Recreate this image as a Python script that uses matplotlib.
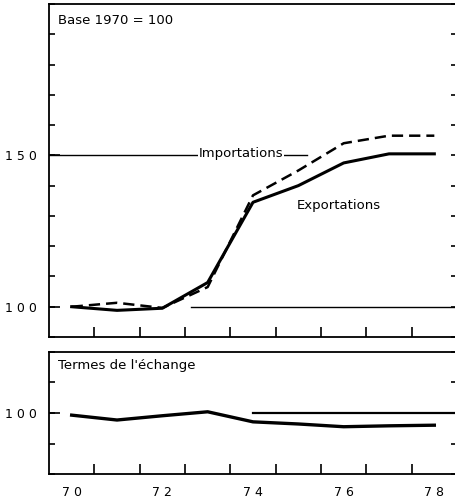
#--------------------------------------------------
# Indices des prix à l'exportation / importation et termes de l'échange
#--------------------------------------------------
import matplotlib
matplotlib.use("Agg")
import matplotlib.pyplot as plt
from matplotlib.ticker import FixedLocator, MultipleLocator

plt.rcParams['font.family'] = ['DejaVu Sans']

#--------------------------------------------------
# données (base 1970 = 100)
#--------------------------------------------------
years = [70, 71, 72, 73, 74, 75, 76, 77, 78]
exportations = [100, 98.8, 99.5, 108, 134.5, 140, 147.5, 150.5, 150.5]
importations = [100, 101.3, 99.6, 106.5, 136.8, 145, 154, 156.5, 156.5]
termes = [99.3, 97.7, 99.1, 100.4, 97.1, 96.4, 95.5, 95.8, 96.0]

x_labels = ["7 0", "7 2", "7 4", "7 6", "7 8"]
x_label_pos = [70, 72, 74, 76, 78]
top_ticks = [100, 150]
top_tick_labels = ["1 0 0", "1 5 0"]

#--------------------------------------------------
# figure
#--------------------------------------------------
fig = plt.figure(figsize=(4.55, 5.0), dpi=100)
ax1 = fig.add_axes([49 / 455, 1 - 337 / 500, 408 / 455, 333 / 500])
ax2 = fig.add_axes([49 / 455, 1 - 474 / 500, 408 / 455, 122 / 500])


def style_axis(ax, ylim, majors, major_labels, show_x):
    ax.set_xlim(69.5, 78.5)
    ax.set_ylim(*ylim)
    ax.spines['right'].set_visible(False)
    for s in ax.spines.values():
        s.set_linewidth(1.3)
    # x : marques aux mi-années, libellés aux années paires
    ax.xaxis.set_major_locator(FixedLocator(x_label_pos))
    ax.xaxis.set_minor_locator(FixedLocator([y + 0.5 for y in years[:-1]]))
    ax.tick_params(axis='x', which='major', length=0, pad=9, labelsize=9)
    ax.tick_params(axis='x', which='minor', direction='in', length=7, width=1.2)
    if show_x:
        ax.set_xticklabels(x_labels)
    else:
        ax.set_xticklabels([])
    # y : graduations tous les 10
    ax.yaxis.set_major_locator(FixedLocator(majors))
    ax.yaxis.set_minor_locator(MultipleLocator(10))
    ax.yaxis.remove_overlapping_locs = False
    ax.set_yticklabels(major_labels)
    ax.tick_params(axis='y', which='major', direction='in', length=8, width=1.2,
                   left=True, right=False, pad=9, labelsize=9)
    ax.tick_params(axis='y', which='minor', direction='in', length=4, width=1.2,
                   left=True, right=True)


style_axis(ax1, (90, 200), top_ticks, top_tick_labels, False)
style_axis(ax2, (80, 120), [100], ["1 0 0"], True)

# libellé 200, rogné par le haut de la figure
ax1.annotate("2 0 0", xy=(0, 200), xycoords=('axes fraction', 'data'),
             xytext=(-6.5, 5.5), textcoords='offset points',
             ha='right', va='center', fontsize=9, annotation_clip=False)

# panneau du haut
ax1.plot([72.64, 78.5], [100, 100], color='black', lw=1.0)
ax1.plot([69.5, 75.2], [150, 150], color='black', lw=1.0)
ax1.plot(years, importations, color='black', lw=1.8, dashes=(4.5, 2.4))
ax1.plot(years, exportations, color='black', lw=2.2)
ax1.text(69.7, 194.5, "Base 1970 = 100", fontsize=9.5, va='center')
ax1.text(72.8, 150.6, "Importations", fontsize=9.5, va='center',
         bbox=dict(facecolor='white', edgecolor='none', pad=0.5))
ax1.text(74.97, 133.6, "Exportations", fontsize=9.5, va='center')

# panneau du bas
ax2.plot([74.0, 78.5], [100, 100], color='black', lw=1.6)
ax2.plot(years, termes, color='black', lw=2.4)
ax2.text(69.7, 115.5, "Termes de l'échange", fontsize=9.5, va='center')

fig.savefig('out.png', dpi=100)
